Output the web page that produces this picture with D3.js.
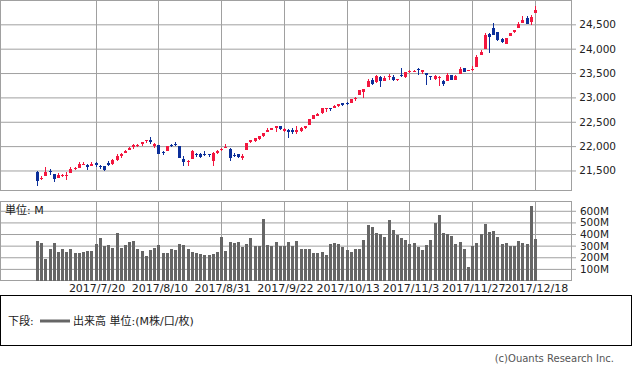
<!DOCTYPE html>
<html>
<head>
<meta charset="utf-8">
<script src="https://cdn.jsdelivr.net/npm/d3@7"></script>
<style>
  body { margin: 0; background: #fff; }
  svg { display: block; font-family: 'DejaVu Sans', 'Noto Sans CJK JP', sans-serif; }
</style>
</head>
<body>
<div id="chart"></div>
<script>
// daily bars, 2017/6/29 - 2017/12/18
const dates = [
  '6/29', '6/30', '7/3', '7/5', '7/6', '7/7', '7/10', '7/11', '7/12', '7/13',
  '7/14', '7/17', '7/18', '7/19', '7/20', '7/21', '7/24', '7/25', '7/26', '7/27',
  '7/28', '7/31', '8/1', '8/2', '8/3', '8/4', '8/7', '8/8', '8/9', '8/10',
  '8/11', '8/14', '8/15', '8/16', '8/17', '8/18', '8/21', '8/22', '8/23', '8/24',
  '8/25', '8/28', '8/29', '8/30', '8/31', '9/1', '9/5', '9/6', '9/7', '9/8',
  '9/11', '9/12', '9/13', '9/14', '9/15', '9/18', '9/19', '9/20', '9/21', '9/22',
  '9/25', '9/26', '9/27', '9/28', '9/29', '10/2', '10/3', '10/4', '10/5', '10/6',
  '10/9', '10/10', '10/11', '10/12', '10/13', '10/16', '10/17', '10/18', '10/19', '10/20',
  '10/23', '10/24', '10/25', '10/26', '10/27', '10/30', '10/31', '11/1', '11/2', '11/3',
  '11/6', '11/7', '11/8', '11/9', '11/10', '11/13', '11/14', '11/15', '11/16', '11/17',
  '11/20', '11/21', '11/22', '11/24', '11/27', '11/28', '11/29', '11/30', '12/1', '12/4',
  '12/5', '12/6', '12/7', '12/8', '12/11', '12/12', '12/13', '12/14', '12/15', '12/18',
];

const opens = [
  21461, 21316, 21392, 21494, 21426, 21340, 21393, 21396, 21450, 21536,
  21560, 21620, 21620, 21597, 21656, 21593, 21583, 21660, 21640, 21720,
  21790, 21860, 21923, 21983, 22002, 22037, 22100, 22124, 22002, 22020,
  21873, 21905, 22021, 22048, 22002, 21737, 21675, 21728, 21835, 21839,
  21836, 21848, 21700, 21855, 21915, 21981, 21939, 21820, 21833, 21760,
  21914, 22088, 22112, 22147, 22207, 22292, 22341, 22376, 22419, 22320,
  22330, 22327, 22299, 22310, 22382, 22424, 22563, 22627, 22670, 22753,
  22785, 22775, 22825, 22878, 22882, 22875, 22960, 23057, 23117, 23213,
  23348, 23308, 23411, 23345, 23411, 23426, 23357, 23461, 23419, 23527,
  23534, 23577, 23527, 23500, 23443, 23370, 23389, 23327, 23346, 23450,
  23362, 23488, 23594, 23540, 23562, 23627, 23880, 23993, 24305, 24424,
  24335, 24191, 24105, 24264, 24336, 24430, 24530, 24631, 24545, 24739,
];

const highs = [
  21483, 21391, 21562, 21531, 21434, 21438, 21431, 21459, 21562, 21580,
  21681, 21682, 21639, 21681, 21667, 21604, 21597, 21690, 21735, 21830,
  21850, 21929, 21990, 22036, 22037, 22092, 22123, 22179, 22066, 22021,
  21906, 22007, 22041, 22084, 22002, 21795, 21721, 21916, 21858, 21863,
  21893, 21848, 21871, 21923, 21963, 22036, 21954, 21857, 21839, 21843,
  22066, 22121, 22159, 22204, 22269, 22362, 22370, 22413, 22419, 22367,
  22350, 22369, 22418, 22385, 22411, 22557, 22642, 22685, 22777, 22787,
  22785, 22842, 22873, 22892, 22905, 22960, 23003, 23157, 23175, 23368,
  23391, 23470, 23440, 23447, 23486, 23462, 23382, 23602, 23516, 23557,
  23557, 23602, 23563, 23500, 23445, 23468, 23438, 23353, 23497, 23469,
  23454, 23617, 23594, 23560, 23638, 23870, 23973, 24327, 24320, 24534,
  24349, 24210, 24227, 24330, 24387, 24552, 24664, 24672, 24691, 24876,
];

const lows = [
  21187, 21301, 21392, 21400, 21266, 21340, 21369, 21313, 21450, 21518,
  21544, 21604, 21519, 21597, 21579, 21529, 21487, 21590, 21618, 21704,
  21760, 21860, 21923, 21950, 21981, 22005, 22074, 22050, 21952, 21844,
  21815, 21905, 21976, 22009, 21750, 21600, 21600, 21728, 21783, 21752,
  21788, 21773, 21600, 21838, 21902, 21977, 21703, 21776, 21748, 21722,
  21914, 22058, 22090, 22123, 22182, 22292, 22324, 22300, 22323, 22298,
  22176, 22255, 22254, 22280, 22358, 22424, 22547, 22627, 22661, 22709,
  22727, 22775, 22801, 22829, 22842, 22875, 22922, 23046, 22990, 23213,
  23263, 23300, 23215, 23345, 23366, 23332, 23338, 23424, 23402, 23502,
  23513, 23458, 23489, 23251, 23360, 23350, 23242, 23238, 23346, 23357,
  23350, 23488, 23520, 23539, 23546, 23627, 23871, 23993, 23921, 24290,
  24163, 24109, 24096, 24255, 24320, 24430, 24525, 24505, 24489, 24739,
];

const closes = [
  21287, 21350, 21479, 21478, 21320, 21414, 21409, 21409, 21532, 21553,
  21638, 21630, 21575, 21641, 21612, 21580, 21513, 21613, 21711, 21797,
  21830, 21891, 21964, 22016, 22026, 22093, 22118, 22085, 22049, 21844,
  21858, 21994, 21999, 22025, 21751, 21675, 21704, 21900, 21812, 21783,
  21814, 21808, 21865, 21892, 21948, 21988, 21753, 21808, 21785, 21798,
  22057, 22119, 22158, 22203, 22268, 22331, 22371, 22413, 22359, 22350,
  22296, 22284, 22341, 22381, 22405, 22558, 22642, 22662, 22775, 22774,
  22761, 22831, 22873, 22841, 22872, 22957, 22997, 23158, 23163, 23329,
  23274, 23442, 23329, 23401, 23434, 23349, 23377, 23435, 23516, 23539,
  23548, 23557, 23563, 23462, 23422, 23440, 23409, 23271, 23458, 23358,
  23430, 23591, 23526, 23558, 23581, 23837, 23941, 24272, 24232, 24290,
  24181, 24141, 24211, 24329, 24386, 24505, 24585, 24509, 24652, 24792,
];

// volume, M
const volumes = [
  342, 319, 186, 272, 325, 246, 272, 246, 272, 238,
  238, 246, 255, 255, 316, 368, 293, 307, 281, 412,
  284, 307, 333, 342, 272, 255, 212, 264, 281, 307,
  238, 238, 272, 264, 316, 307, 272, 246, 238, 229,
  220, 220, 229, 246, 377, 255, 333, 325, 333, 290,
  316, 368, 293, 299, 533, 307, 299, 333, 299, 299,
  333, 293, 342, 267, 272, 272, 238, 238, 246, 220,
  316, 325, 316, 290, 264, 246, 272, 272, 351, 481,
  464, 412, 403, 377, 525, 438, 394, 368, 351, 316,
  325, 290, 264, 307, 351, 499, 568, 412, 403, 386,
  316, 333, 272, 116, 299, 325, 403, 490, 420, 429,
  377, 316, 325, 299, 299, 342, 325, 316, 638, 359,
];

const tickDates = ['7/20', '8/10', '8/31', '9/22', '10/13', '11/3', '11/27', '12/18'];
const priceTicks = [21500, 22000, 22500, 23000, 23500, 24000, 24500];
const volumeTicks = [100, 200, 300, 400, 500, 600];

const UP = '#f3173f';
const DOWN = '#0b2f9a';
const GRID = '#a0a0a0';

const width = 633;
const height = 370;
const plotRight = 571.5;
const upperPanel = { y0: 0.5, y1: 190.5 };
const lowerPanel = { y0: 201.5, y1: 280.5 };

const bars = dates.map((d, i) => ({
  date: d,
  open: opens[i],
  high: highs[i],
  low: lows[i],
  close: closes[i],
  volume: volumes[i],
}));

const x = d3.scaleBand()
  .domain(dates)
  .range([34.9, 34.9 + dates.length * 4.185]);
const cx = (d) => x(d) + x.bandwidth() / 2;

const y = d3.scaleLinear()
  .domain([21089, 24989])
  .range([upperPanel.y1, upperPanel.y0]);

const vy = d3.scaleLinear()
  .domain([0, 680])
  .range([lowerPanel.y1, lowerPanel.y0]);

const svg = d3.select('#chart')
  .append('svg')
  .attr('width', width)
  .attr('height', height);

svg.append('rect')
  .attr('width', width)
  .attr('height', height)
  .attr('fill', '#fff');

// upper panel grid + price axis
const priceAxis = svg.append('g')
  .attr('transform', `translate(${plotRight + 4.5},0)`)
  .call(d3.axisRight(y)
    .tickValues(priceTicks)
    .tickSize(-(plotRight + 4.5))
    .tickPadding(5)
    .tickFormat(d3.format(',')));
priceAxis.select('.domain').remove();
priceAxis.selectAll('line').attr('stroke', GRID);
priceAxis.selectAll('text')
  .attr('x', 40)
  .attr('text-anchor', 'end')
  .attr('fill', '#222')
  .style('font-size', '10.5px')
  .style('font-family', 'DejaVu Sans');

// lower panel grid + volume axis
const volAxis = svg.append('g')
  .attr('transform', `translate(${plotRight + 4.5},0)`)
  .call(d3.axisRight(vy)
    .tickValues(volumeTicks)
    .tickSize(-(plotRight + 4.5))
    .tickPadding(5)
    .tickFormat((d) => `${d}M`));
volAxis.select('.domain').remove();
volAxis.selectAll('line').attr('stroke', GRID);
volAxis.selectAll('text')
  .attr('x', 33)
  .attr('text-anchor', 'end')
  .attr('fill', '#222')
  .style('font-size', '10.5px')
  .style('font-family', 'DejaVu Sans');

// vertical grid in both panels
[upperPanel, lowerPanel].forEach((p) => {
  svg.append('g')
    .selectAll('line')
    .data(tickDates)
    .join('line')
    .attr('x1', (d) => Math.round(cx(d)) + 0.5)
    .attr('x2', (d) => Math.round(cx(d)) + 0.5)
    .attr('y1', p.y0)
    .attr('y2', p.y1)
    .attr('stroke', GRID);

  svg.append('rect')
    .attr('x', 0.5)
    .attr('y', p.y0)
    .attr('width', plotRight - 0.5)
    .attr('height', p.y1 - p.y0)
    .attr('fill', 'none')
    .attr('stroke', GRID);
});

// candles
const candles = svg.append('g')
  .attr('shape-rendering', 'crispEdges');

candles.selectAll('line')
  .data(bars)
  .join('line')
  .attr('x1', (d) => Math.round(cx(d.date)) + 0.5)
  .attr('x2', (d) => Math.round(cx(d.date)) + 0.5)
  .attr('y1', (d) => y(d.high))
  .attr('y2', (d) => y(d.low))
  .attr('stroke', (d) => (d.close >= d.open ? UP : DOWN));

candles.selectAll('rect')
  .data(bars)
  .join('rect')
  .attr('x', (d) => Math.round(cx(d.date)) - 1)
  .attr('width', 3)
  .attr('y', (d) => y(Math.max(d.open, d.close)))
  .attr('height', (d) => Math.max(1, Math.abs(y(d.open) - y(d.close))))
  .attr('fill', (d) => (d.close >= d.open ? UP : DOWN));

// volume bars
svg.append('g')
  .attr('shape-rendering', 'crispEdges')
  .selectAll('rect')
  .data(bars)
  .join('rect')
  .attr('x', (d) => Math.round(cx(d.date)) - 1)
  .attr('width', 3)
  .attr('y', (d) => vy(d.volume))
  .attr('height', (d) => vy(0) - vy(d.volume))
  .attr('fill', '#666');

svg.append('text')
  .attr('x', 5)
  .attr('y', 214)
  .attr('fill', '#222')
  .style('font-size', '11px')
  .text('単位: M');

// date labels
svg.append('g')
  .selectAll('text')
  .data(tickDates)
  .join('text')
  .attr('x', (d) => cx(d) + 1.5)
  .attr('y', 292)
  .attr('text-anchor', 'middle')
  .attr('fill', '#222')
  .style('font-size', '11px')
  .text((d) => `2017/${d}`);

// legend box
svg.append('rect')
  .attr('x', 0.5)
  .attr('y', 295.5)
  .attr('width', 631)
  .attr('height', 50)
  .attr('fill', '#fff')
  .attr('stroke', '#000');

svg.append('text')
  .attr('x', 8)
  .attr('y', 325)
  .attr('fill', '#222')
  .style('font-size', '11px')
  .text('下段:');

svg.append('line')
  .attr('x1', 40)
  .attr('x2', 70)
  .attr('y1', 321)
  .attr('y2', 321)
  .attr('stroke', '#666')
  .attr('stroke-width', 3);

svg.append('text')
  .attr('x', 73)
  .attr('y', 325)
  .attr('fill', '#222')
  .style('font-size', '11px')
  .text('出来高 単位:(M株/口/枚)');

svg.append('text')
  .attr('x', 614)
  .attr('y', 362)
  .attr('text-anchor', 'end')
  .attr('fill', '#555')
  .style('font-size', '10px')
  .text('(c)Ouants Research Inc.');
</script>
</body>
</html>
